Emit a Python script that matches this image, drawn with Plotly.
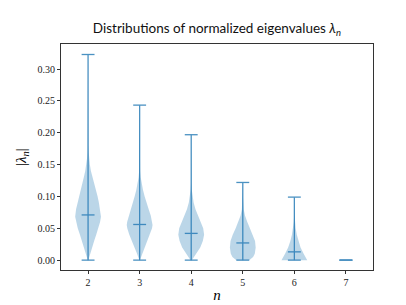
import plotly.graph_objects as go

# ---- data ----
positions = [2, 3, 4, 5, 6, 7]
mins = [0.0, 0.0, 0.0, 0.0, 0.0, 0.0]
maxes = [0.323, 0.2435, 0.197, 0.122, 0.099, 0.0]
means = [0.071, 0.056, 0.042, 0.027, 0.013, 0.0]

# density profiles (value level, relative half-width) for each violin
levels_2 = [0.0, 0.01, 0.02, 0.03, 0.04, 0.05, 0.06, 0.068, 0.08, 0.09, 0.10, 0.11, 0.12, 0.13, 0.14, 0.15, 0.16, 0.17, 0.18, 0.20, 0.25, 0.323]
dens_2 = [0.02, 0.15, 0.30, 0.47, 0.63, 0.80, 0.93, 1.0, 0.93, 0.84, 0.74, 0.60, 0.45, 0.33, 0.22, 0.14, 0.08, 0.045, 0.025, 0.01, 0.003, 0.0]

levels_3 = [0.0, 0.01, 0.02, 0.03, 0.04, 0.05, 0.055, 0.06, 0.07, 0.08, 0.09, 0.10, 0.11, 0.12, 0.13, 0.14, 0.16, 0.20, 0.2435]
dens_3 = [0.02, 0.20, 0.38, 0.58, 0.80, 0.96, 1.0, 0.97, 0.86, 0.70, 0.53, 0.39, 0.26, 0.15, 0.08, 0.04, 0.015, 0.004, 0.0]

levels_4 = [0.0, 0.01, 0.02, 0.03, 0.04, 0.05, 0.06, 0.07, 0.08, 0.09, 0.10, 0.11, 0.12, 0.15, 0.197]
dens_4 = [0.05, 0.35, 0.70, 0.90, 1.0, 0.93, 0.72, 0.52, 0.33, 0.19, 0.09, 0.045, 0.02, 0.006, 0.0]

levels_5 = [0.0, 0.005, 0.01, 0.02, 0.03, 0.04, 0.05, 0.06, 0.07, 0.08, 0.09, 0.10, 0.122]
dens_5 = [0.50, 0.80, 0.93, 1.0, 0.95, 0.78, 0.55, 0.35, 0.17, 0.07, 0.03, 0.012, 0.0]

levels_6 = [0.0, 0.005, 0.01, 0.02, 0.03, 0.04, 0.05, 0.06, 0.07, 0.08, 0.099]
dens_6 = [1.0, 0.85, 0.72, 0.48, 0.31, 0.19, 0.10, 0.045, 0.02, 0.008, 0.0]

levels_7 = [0.0, 0.0]
dens_7 = [1.0, 1.0]

profiles = [(levels_2, dens_2), (levels_3, dens_3), (levels_4, dens_4),
            (levels_5, dens_5), (levels_6, dens_6), (levels_7, dens_7)]

yticks = [0.0, 0.05, 0.10, 0.15, 0.20, 0.25, 0.30]
ytick_text = ["0.00", "0.05", "0.10", "0.15", "0.20", "0.25", "0.30"]

# ---- style ----
C0 = "#1f77b4"
FILL = "rgba(31,119,180,0.3)"
HALF = 0.25      # max violin half-width (data units)
CAP = 0.125      # half-length of cap / mean lines
SERIF = "Liberation Serif"
SANS = "Lato"

fig = go.Figure()

# violin bodies
for p, (lv, dn) in zip(positions, profiles):
    xs = [p + HALF * d for d in dn] + [p - HALF * d for d in reversed(dn)]
    ys = list(lv) + list(reversed(lv))
    fig.add_trace(go.Scatter(x=xs, y=ys, mode="lines", fill="toself",
                             fillcolor=FILL, line=dict(width=0),
                             showlegend=False, hoverinfo="skip"))

# vertical bars, caps and means
lx, ly = [], []
for p, lo, hi, m in zip(positions, mins, maxes, means):
    lx += [p, p, None]
    ly += [lo, hi, None]
    for v in (lo, hi, m):
        lx += [p - CAP, p + CAP, None]
        ly += [v, v, None]
fig.add_trace(go.Scatter(x=lx, y=ly, mode="lines",
                         line=dict(color=C0, width=1.3),
                         opacity=0.8, showlegend=False, hoverinfo="skip"))

fig.update_layout(
    width=406, height=305,
    margin=dict(l=51, r=41, t=36, b=35),
    plot_bgcolor="white", paper_bgcolor="white",
    title=dict(
        text="Distributions of normalized eigenvalues "
             "<i>λ</i><sub><i>n</i></sub>",
        x=0.5, xref="paper", xanchor="center",
        y=1 - 25 / 305, yanchor="bottom", yref="container",
        font=dict(family=SANS, size=13.5, color="#111")),
    xaxis=dict(
        range=[1.475, 7.525], tickmode="array", tickvals=positions,
        ticktext=[str(p) for p in positions],
        ticks="outside", ticklen=3, tickwidth=1, tickcolor="#333",
        showline=True, linecolor="#333", linewidth=1, mirror=True,
        showgrid=False, zeroline=False,
        tickfont=dict(family=SERIF, size=10, color="#222"),
        title=dict(text="<i>n</i>", font=dict(family=SERIF, size=15, color="black"),
                   standoff=2)),
    yaxis=dict(
        range=[-0.0155, 0.3395], tickmode="array", tickvals=yticks,
        ticktext=ytick_text,
        ticks="outside", ticklen=3, tickwidth=1, tickcolor="#333",
        showline=True, linecolor="#333", linewidth=1, mirror=True,
        showgrid=False, zeroline=False,
        tickfont=dict(family=SERIF, size=10, color="#222"),
        title=dict(text="|<i>λ</i><sub><i>n</i></sub>|",
                   font=dict(family=SERIF, size=15, color="black"),
                   standoff=7)),
)

fig.write_html("out.html")
